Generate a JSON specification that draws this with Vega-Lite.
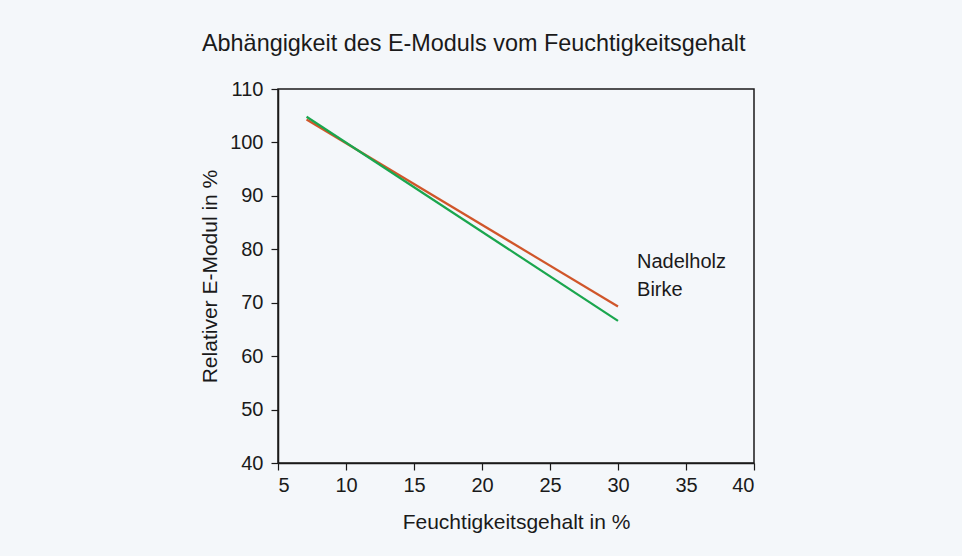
{
  "$schema": "https://vega.github.io/schema/vega-lite/v6.json",
  "autosize": "none",
  "width": 476,
  "height": 374,
  "padding": {"left": 278, "top": 89, "right": 208, "bottom": 93},
  "background": "#f4f7fa",
  "title": {
    "text": "Abhängigkeit des E-Moduls vom Feuchtigkeitsgehalt",
    "anchor": "start",
    "frame": "group",
    "dx": -76,
    "offset": 23,
    "font": "Liberation Sans",
    "fontSize": 23.4,
    "fontWeight": "normal",
    "color": "#1a1a1a"
  },
  "config": {
    "view": {"stroke": "#1a1a1a", "strokeWidth": 1.5, "fill": null},
    "axis": {
      "grid": false,
      "domainColor": "#1a1a1a",
      "domainWidth": 1.5,
      "tickColor": "#1a1a1a",
      "tickWidth": 1.2,
      "tickSize": 7,
      "labelFont": "Liberation Sans",
      "labelFontSize": 20,
      "labelColor": "#1a1a1a",
      "labelPadding": 8,
      "titleFont": "Liberation Sans",
      "titleFontSize": 21,
      "titleFontWeight": "normal",
      "titleColor": "#1a1a1a"
    }
  },
  "layer": [
    {
      "data": {
        "values": [
          {"serie": "Nadelholz", "feuchte": 7.1, "modul": 104.3},
          {"serie": "Nadelholz", "feuchte": 30.0, "modul": 69.3},
          {"serie": "Birke", "feuchte": 7.1, "modul": 104.8},
          {"serie": "Birke", "feuchte": 30.0, "modul": 66.6}
        ]
      },
      "mark": {"type": "line", "strokeWidth": 2.2},
      "encoding": {
        "x": {
          "field": "feuchte",
          "type": "quantitative",
          "scale": {"domain": [5, 40], "nice": false},
          "axis": {"values": [5, 10, 15, 20, 25, 30, 35, 40], "title": "Feuchtigkeitsgehalt in %", "titlePadding": 16, "labelPadding": 5}
        },
        "y": {
          "field": "modul",
          "type": "quantitative",
          "scale": {"domain": [40, 110], "nice": false, "zero": false},
          "axis": {"values": [40, 50, 60, 70, 80, 90, 100, 110], "title": "Relativer E-Modul in %", "titlePadding": 9}
        },
        "color": {
          "field": "serie",
          "type": "nominal",
          "scale": {"domain": ["Nadelholz", "Birke"], "range": ["#d0562a", "#1aa64e"]},
          "legend": null
        },
        "detail": {"field": "serie"}
      }
    },
    {
      "data": {
        "values": [
          {"label": "Nadelholz", "feuchte": 31.4, "modul": 77.6},
          {"label": "Birke", "feuchte": 31.4, "modul": 72.4}
        ]
      },
      "mark": {"type": "text", "align": "left", "baseline": "middle", "font": "Liberation Sans", "fontSize": 20, "color": "#1a1a1a"},
      "encoding": {
        "x": {"field": "feuchte", "type": "quantitative"},
        "y": {"field": "modul", "type": "quantitative"},
        "text": {"field": "label"}
      }
    }
  ]
}
